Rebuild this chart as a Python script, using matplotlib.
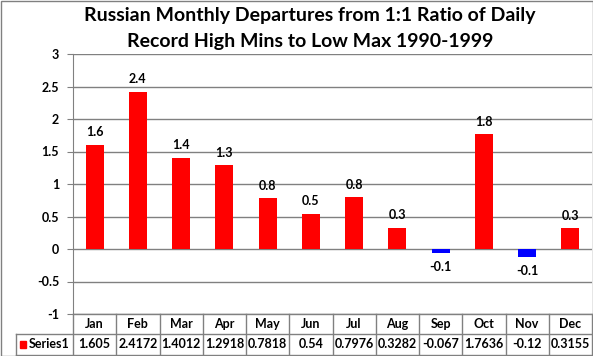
import matplotlib.pyplot as plt
from matplotlib.lines import Line2D
from matplotlib.patches import Rectangle

months = ['Jan', 'Feb', 'Mar', 'Apr', 'May', 'Jun', 'Jul', 'Aug', 'Sep', 'Oct', 'Nov', 'Dec']
values = [1.605, 2.4172, 1.4012, 1.2918, 0.7818, 0.54, 0.7976, 0.3282, -0.067, 1.7636, -0.12, 0.3155]
table_text = ['1.605', '2.4172', '1.4012', '1.2918', '0.7818', '0.54', '0.7976', '0.3282',
              '-0.067', '1.7636', '-0.12', '0.3155']
series_name = 'Series1'
title_lines = ['Russian Monthly Departures from 1:1 Ratio of Daily',
               'Record High Mins to Low Max 1990-1999']

plt.rcParams['font.family'] = ['Lato', 'DejaVu Sans']
plt.rcParams['font.weight'] = 'bold'

W, H = 593, 356
fig = plt.figure(figsize=(W / 100, H / 100), dpi=100)
ax = fig.add_axes([73 / W, 1 - 314 / H, (592 - 73) / W, (314 - 54) / H])

x = list(range(len(months)))
colors = ['red' if v >= 0 else 'blue' for v in values]
ax.bar(x, values, width=0.42, color=colors, zorder=3)

for xi, v in zip(x, values):
    if v >= 0:
        ax.text(xi, v + 0.1, f'{v:.1f}', ha='center', va='bottom', fontsize=9, fontweight='bold')
    else:
        ax.text(xi, v - 0.12, f'{v:.1f}', ha='center', va='top', fontsize=9, fontweight='bold')

ax.set_xlim(-0.5, len(months) - 0.5)
ax.set_ylim(-1, 3)
ax.set_yticks([-1, -0.5, 0, 0.5, 1, 1.5, 2, 2.5, 3])
ax.set_yticklabels(['-1', '-0.5', '0', '0.5', '1', '1.5', '2', '2.5', '3'])
ax.tick_params(axis='y', labelsize=9, length=4, color='#808080', pad=6)
ax.set_xticks([])
ax.grid(axis='y', color='#808080', linewidth=1, zorder=0)
for s in ['top', 'right', 'bottom']:
    ax.spines[s].set_visible(False)
ax.spines['left'].set_color('#808080')

fig.text(310 / W, 1 - 16 / H, title_lines[0], ha='center', va='center', fontsize=14, fontweight='bold')
fig.text(310 / W, 1 - 41 / H, title_lines[1], ha='center', va='center', fontsize=14, fontweight='bold')

# data table below the plot
def fx(px):
    return px / W

def fy(py):
    return 1 - py / H

gray = '#808080'
left_px, ax_left, right_px = 16, 73, 592
top_px, mid_px, bot_px = 314, 334, 355
cw = (right_px - ax_left) / len(months)
lines = [
    ([ax_left, right_px], [top_px, top_px]),
    ([left_px, right_px], [mid_px, mid_px]),
    ([left_px, right_px], [bot_px, bot_px]),
    ([left_px, left_px], [mid_px, bot_px]),
]
for i in range(len(months) + 1):
    xx = ax_left + i * cw
    lines.append(([xx, xx], [top_px, bot_px]))
for xs, ys in lines:
    fig.add_artist(Line2D([fx(v) for v in xs], [fy(v) for v in ys], color=gray, linewidth=1))

for i, (m, t) in enumerate(zip(months, table_text)):
    cx = ax_left + (i + 0.5) * cw
    fig.text(fx(cx), fy((top_px + mid_px) / 2), m, ha='center', va='center', fontsize=9, fontweight='bold')
    fig.text(fx(cx), fy((mid_px + bot_px) / 2), t, ha='center', va='center', fontsize=9, fontweight='bold')

fig.add_artist(Rectangle((fx(20), fy(348)), 6 / W, 7 / H, color='red', transform=fig.transFigure))
fig.text(fx(29), fy((mid_px + bot_px) / 2), series_name, ha='left', va='center', fontsize=9, fontweight='bold')

# chart border
fig.add_artist(Rectangle((0.5 / W, 0.5 / H), 1 - 1 / W, 1 - 1 / H, fill=False, edgecolor=gray,
                         linewidth=1, transform=fig.transFigure))

fig.savefig('out.png', dpi=100)
